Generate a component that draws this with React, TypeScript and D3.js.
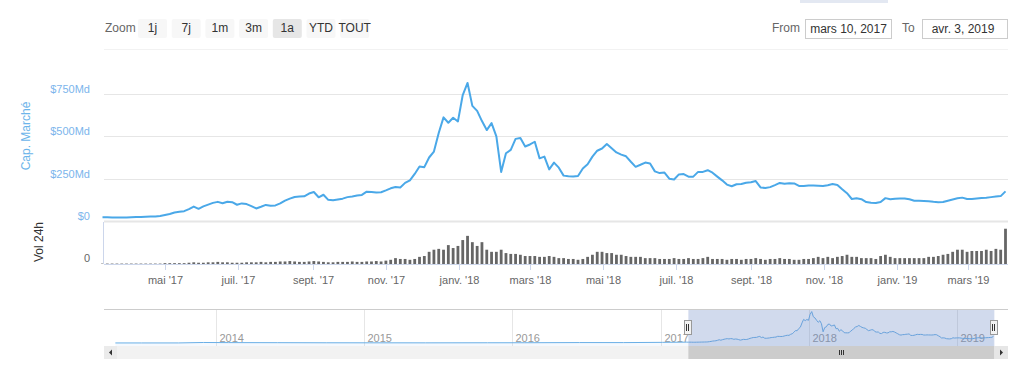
import React from 'react';
import * as d3 from 'd3';

// market cap (Md $) every 4 days from 10 Mar 2017
const startDate = new Date(2017, 2, 10);
const stepDays = 4;
const capValues = [
  22, 22, 21, 20, 20, 21, 22, 23, 24, 25,
  26, 27, 29, 35, 41, 50, 54, 58, 70, 85,
  72, 86, 97, 107, 113, 105, 114, 111, 96, 104,
  100, 88, 74, 84, 95, 90, 92, 104, 120, 132,
  142, 144, 146, 162, 171, 140, 155, 125, 122, 127,
  132, 141, 145, 150, 154, 173, 171, 168, 170, 181,
  193, 201, 198, 225, 240, 278, 322, 318, 375, 410,
  520, 612, 580, 610, 588, 744, 815, 680, 650, 590,
  537, 578, 500, 290, 400, 420, 485, 490, 440, 452,
  468, 370, 380, 305, 345, 315, 268, 264, 263, 266,
  310, 335, 380, 415, 428, 455, 430, 405, 392, 382,
  350, 320, 332, 345, 340, 293, 283, 286, 250, 245,
  275, 277, 262, 262, 290, 290, 300, 285, 262, 240,
  215, 205, 217, 218, 226, 229, 236, 198, 195, 200,
  212, 225, 220, 223, 222, 207, 207, 210, 209, 208,
  207, 211, 218, 213, 187, 164, 130, 134, 129, 112,
  108, 106, 112, 135, 128, 132, 133, 133, 128, 120,
  120, 118, 116, 113, 111, 112, 120, 127, 134, 138,
  130, 130, 133, 136, 138, 141, 144, 147, 175,
];
// 24h volume (Md $), same dates
const volValues = [
  1, 1, 1, 1, 1, 1, 1, 1, 1, 1, 1, 1, 1, 2, 2, 2, 2, 2,
  3, 4, 3, 3, 4, 4, 5, 4, 4, 3, 3, 3, 4,
  4, 4, 5, 4, 5, 5, 6, 6, 7, 6, 5, 5, 6, 7, 6, 5, 4, 4, 5, 5, 5, 6, 5, 5, 6, 6, 7, 6, 8, 10,
  14, 12, 12, 10, 12, 17, 19, 29, 34, 36, 34, 45, 38, 43, 57, 67, 52, 43, 52, 34,
  29, 29, 34, 26, 24, 24, 22, 19, 19, 19, 17, 17, 19, 17, 14, 14, 12, 12, 10, 12,
  17, 22, 29, 29, 26, 26, 22, 22, 19, 17, 17, 17, 14, 14, 14, 12, 12, 12, 14, 12,
  12, 14, 12, 12, 14, 17, 12, 12, 12, 10, 12, 12, 10, 12, 12, 14, 12, 10, 12, 12,
  14, 12, 12, 10, 10, 12, 12, 14, 17, 14, 17, 14,
  17, 19, 22, 17, 17, 14, 14, 14, 12, 19, 22, 17, 14, 14, 14, 14, 14, 14, 14, 17,
  17, 19, 22, 24, 29, 34, 34, 29, 31, 31, 31, 34, 31, 36, 34, 84,
];
// earlier history, shown only in the navigator
const earlyDates = ['2013-04-28', '2013-07-01', '2013-10-01', '2013-12-01', '2014-02-01', '2014-06-01', '2014-10-01',
  '2015-01-15', '2015-06-01', '2015-11-01', '2016-02-01', '2016-06-15', '2016-10-01', '2017-01-05', '2017-03-06'];
const earlyCap = [1.6, 1.3, 2, 13, 10, 8.5, 5.5, 4.5, 4, 6, 6.5, 11, 10.5, 17, 22];

const capTicks = [0, 250, 500, 750];
const capTickLabels = ['$0', '$250Md', '$500Md', '$750Md'];
const monthTicks = ['2017-05-01', '2017-07-01', '2017-09-01', '2017-11-01', '2018-01-01', '2018-03-01',
  '2018-05-01', '2018-07-01', '2018-09-01', '2018-11-01', '2019-01-01', '2019-03-01'];
const monthLabels = ["mai '17", "juil. '17", "sept. '17", "nov. '17", "janv. '18", "mars '18",
  "mai '18", "juil. '18", "sept. '18", "nov. '18", "janv. '19", "mars '19"];
const navYears = ['2014', '2015', '2016', '2017', '2018', '2019'];
const zoomButtons = ['1j', '7j', '1m', '3m', '1a', 'YTD', 'TOUT'];
const selectedButton = '1a';
const fromText = 'mars 10, 2017';
const toText = 'avr. 3, 2019';
const rangeEnd = new Date(2019, 3, 3);

const font = "'Liberation Sans', Arial, sans-serif";
const lineColor = '#4aa8e8';

const parse = (s: string) => { const [y, m, d] = s.split('-').map(Number); return new Date(y, m - 1, d); };

export default function App() {
  const dates = capValues.map((_, i) => d3.timeDay.offset(startDate, i * stepDays));
  const left = 104, right = 1008;

  const x = d3.scaleTime().domain([startDate, dates[dates.length - 1]]).range([102.5, 1005.5]);
  const yCap = d3.scaleLinear().domain([0, 750]).range([221, 94]);
  const yVol = d3.scaleLinear().domain([0, 100]).range([264, 222]);

  const capLine = d3.line<number>()
    .x((_, i) => x(dates[i]))
    .y(d => yCap(d));

  // navigator
  const xNav = d3.scaleTime().domain([new Date(2014, 0, 1), new Date(2019, 0, 1)]).range([216, 957]);
  const yNav = d3.scaleLinear().domain([0, 830]).range([343, 311]);
  const navData: [Date, number][] = [
    ...earlyDates.map((d, i) => [parse(d), earlyCap[i]] as [Date, number]),
    ...capValues.map((v, i) => [dates[i], v] as [Date, number]),
  ];
  const navLine = d3.line<[Date, number]>().x(d => xNav(d[0])).y(d => yNav(d[1]));
  const navArea = d3.area<[Date, number]>().x(d => xNav(d[0])).y0(346).y1(d => yNav(d[1]));
  const selL = xNav(startDate), selR = xNav(rangeEnd);

  const barW = 2.8;

  return (
    <div style={{ position: 'absolute', left: 0, top: 0 }}>
      <svg width={1024} height={367} style={{ display: 'block', fontFamily: font }}>
        <rect x={800} y={0} width={88} height={3} fill="#e3e8f2" />

        {/* range selector */}
        <text x={105} y={32} fontSize={12} fill="#666">Zoom</text>
        {zoomButtons.map((b, i) => {
          const bx = 138 + i * 33.7;
          return (
            <g key={b}>
              <rect x={bx} y={19} width={29} height={19} rx={2}
                fill={b === selectedButton ? '#e6e6e6' : '#f7f7f7'} />
              <text x={bx + 14.5} y={32} fontSize={12} fill="#333" textAnchor="middle">{b}</text>
            </g>
          );
        })}
        <text x={772} y={32} fontSize={12} fill="#666">From</text>
        <rect x={805.5} y={19.5} width={86} height={19} fill="#fff" stroke="#ccc" />
        <text x={848.5} y={33} fontSize={12} fill="#333" textAnchor="middle">{fromText}</text>
        <text x={902} y={32} fontSize={12} fill="#666">To</text>
        <rect x={922.5} y={19.5} width={85} height={19} fill="#fff" stroke="#ccc" />
        <text x={963} y={33} fontSize={12} fill="#333" textAnchor="middle">{toText}</text>
        <line x1={left} x2={right} y1={49.5} y2={49.5} stroke="#f2f2f2" />

        {/* cap gridlines and labels */}
        {capTicks.map((t, i) => (
          <g key={t}>
            <line x1={left} x2={right} y1={Math.round(yCap(t)) + 0.5} y2={Math.round(yCap(t)) + 0.5}
              stroke="#e6e6e6" strokeWidth={t === 0 ? 2 : 1} />
            <text x={90} y={yCap(t) - 1} fontSize={11} fill="#7cb5ec" textAnchor="end">{capTickLabels[i]}</text>
          </g>
        ))}
        <text transform="translate(30,136) rotate(-90)" fontSize={12} fill="#6cb4ea" textAnchor="middle">Cap. Marché</text>

        {/* volume */}
        {volValues.map((v, i) => (
          <rect key={i} x={x(dates[i]) - barW / 2} y={yVol(v)} width={barW} height={yVol(0) - yVol(v)} fill="#666" />
        ))}
        <line x1={left - 0.5} x2={left - 0.5} y1={222} y2={264} stroke="#ccd6eb" />
        <line x1={left} x2={right} y1={264.5} y2={264.5} stroke="#ccd6eb" />
        <text x={90} y={262} fontSize={11} fill="#666" textAnchor="end">0</text>
        <text transform="translate(43,242) rotate(-90)" fontSize={12} fill="#333" textAnchor="middle">Vol 24h</text>

        {/* month ticks */}
        {monthTicks.map((m, i) => {
          const tx = Math.round(x(parse(m))) + 0.5;
          return (
            <g key={m}>
              <line x1={tx} x2={tx} y1={264} y2={270} stroke="#ccd6eb" />
              <text x={tx} y={284} fontSize={11} fill="#666" textAnchor="middle">{monthLabels[i]}</text>
            </g>
          );
        })}

        {/* cap line */}
        <path d={capLine(capValues) || ''} fill="none" stroke={lineColor} strokeWidth={2} strokeLinejoin="round" />

        {/* navigator */}
        {navYears.map(yr => {
          const nx = Math.round(xNav(new Date(+yr, 0, 1))) + 0.5;
          return (
            <g key={yr}>
              <line x1={nx} x2={nx} y1={309} y2={346} stroke="#e6e6e6" />
              <text x={nx + 3} y={342} fontSize={11} fill="#999">{yr}</text>
            </g>
          );
        })}
        <path d={navArea(navData) || ''} fill="rgba(124,181,236,0.08)" />
        <path d={navLine(navData) || ''} fill="none" stroke="#6aafe6" strokeWidth={1} />
        <rect x={selL} y={309} width={selR - selL} height={37} fill="rgba(102,133,194,0.3)" />
        <line x1={left} x2={right} y1={309.5} y2={309.5} stroke="#cccccc" />
        {[selL, selR].map((hx, i) => (
          <g key={i}>
            <rect x={Math.round(hx) - 3.5} y={320.5} width={7} height={14} fill="#f2f2f2" stroke="#999" />
            <line x1={Math.round(hx) - 1.5} x2={Math.round(hx) - 1.5} y1={324} y2={331} stroke="#333" />
            <line x1={Math.round(hx) + 0.5} x2={Math.round(hx) + 0.5} y1={324} y2={331} stroke="#333" />
          </g>
        ))}

        {/* scrollbar */}
        <rect x={left} y={346} width={right - left} height={13} fill="#f2f2f2" />
        <rect x={selL} y={346} width={selR - selL} height={13} fill="#cccccc" />
        {[-2, 0, 2].map(o => (
          <line key={o} x1={Math.round((selL + selR) / 2) + o + 0.5} x2={Math.round((selL + selR) / 2) + o + 0.5}
            y1={350} y2={355} stroke="#333" />
        ))}
        <rect x={left} y={346} width={13} height={13} fill="#ebebeb" />
        <path d={`M${left + 8},${349.5} L${left + 5},${352.5} L${left + 8},${355.5} Z`} fill="#333" />
        <rect x={right - 13} y={346} width={13} height={13} fill="#e6e6e6" />
        <path d={`M${right - 8},${349.5} L${right - 5},${352.5} L${right - 8},${355.5} Z`} fill="#333" />
      </svg>
    </div>
  );
}
